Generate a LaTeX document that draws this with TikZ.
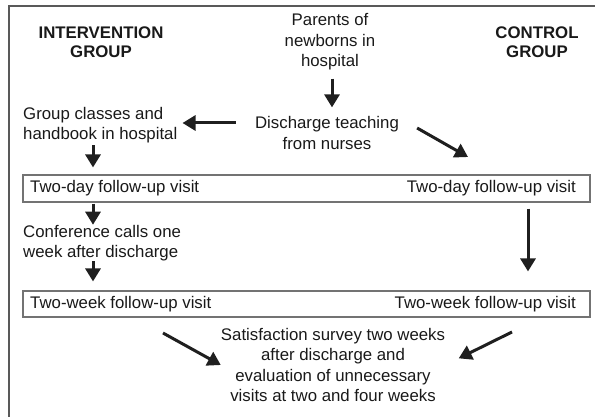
\documentclass[tikz,border=0pt]{standalone}
\usepackage{fontspec}
\setmainfont{Liberation Sans}
\usetikzlibrary{arrows.meta,positioning}

\tikzset{
  txt/.style={inner sep=0pt, font=\fontsize{16.8}{20.5}\selectfont, text=black!90},
  ctxt/.style={txt, align=center},
  ltxt/.style={txt, align=left, anchor=west},
  grp/.style={txt, align=center, font=\fontsize{16.8}{19.5}\selectfont\bfseries},
  visitbox/.style={draw=black!55, line width=1.1pt, minimum width=567pt, minimum height=27pt, inner sep=0pt},
  arr/.style={line width=3pt, black!88, -{Triangle[width=15pt,length=13pt]}}
}

\begin{document}
\begin{tikzpicture}[x=1pt,y=-1pt]
\useasboundingbox (0,0) rectangle (595,417);
% frame
\draw[black!65, line width=1.5pt] (596,6) -- (9,6) -- (9,418);

% headings
\node[grp] (intgrp) at (101,42) {INTERVENTION\\GROUP};
\node[grp] (ctlgrp) at (537,42) {CONTROL\\GROUP};

% top of the chart
\node[ctxt] (parents) at (330,42) {Parents of\\newborns in\\hospital};
\node[ctxt] (discharge) at (327,133) {Discharge teaching\\from nurses};
\node[ltxt] (classes) at (23,125) {Group classes and\\handbook in hospital};

% visits
\node[visitbox] (day) at (306.5,188.5) {};
\node[txt, anchor=west] (dayL) at (30,188) {Two-day follow-up visit};
\node[txt, anchor=east] (dayR) at (576,188) {Two-day follow-up visit};
\node[ltxt] (conf) at (23,243) {Conference calls one\\week after discharge};
\node[visitbox, minimum height=26pt] (week) at (306.5,304) {};
\node[txt, anchor=west] (weekL) at (30,304) {Two-week follow-up visit};
\node[txt, anchor=east] (weekR) at (576,304) {Two-week follow-up visit};

\node[ctxt] (survey) at (333,365) {Satisfaction survey two weeks\\after discharge and\\evaluation of unnecessary\\visits at two and four weeks};

% arrows
\coordinate (ix) at (93,0);
\coordinate (cx) at (528,0);
\coordinate (hy) at (0,123);
\coordinate (ctlend) at (468,157);
\coordinate (wl) at (163,333);
\coordinate (wr) at (512,332);
\draw[arr, shorten <=8pt, shorten >=9pt] (parents.south -| 332,0) -- (discharge.north -| 332,0);
\draw[arr, shorten <=19pt, shorten >=5pt] (discharge.west |- hy) -- (classes.east |- hy);
\draw[arr] ([shift={(18,-5)}]discharge.east) -- (ctlend);
\draw[arr, shorten <=2pt, shorten >=7pt] (classes.south -| ix) -- (day.north -| ix);
\draw[arr, shorten <=1pt] (day.south -| ix) -- (conf.north -| ix);
\draw[arr, shorten >=9pt] (conf.south -| ix) -- (week.north -| ix);
\draw[arr, shorten <=6pt, shorten >=19pt] (day.south -| cx) -- (week.north -| cx);
\draw[arr] (wl) -- (survey.west);
\draw[arr, shorten >=15pt] (wr) -- (survey.east);
\end{tikzpicture}
\end{document}
